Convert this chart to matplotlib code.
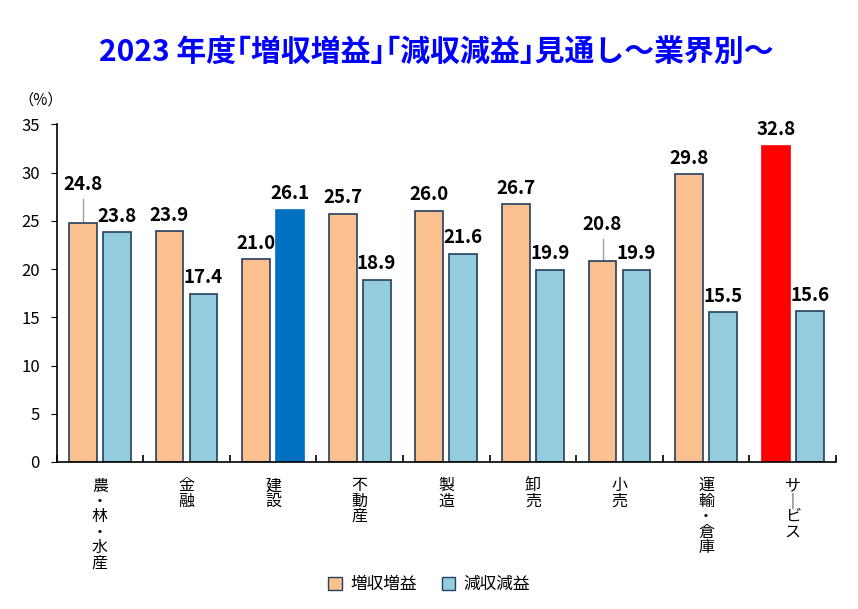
import numpy as np
import matplotlib.pyplot as plt
from matplotlib.patches import Patch

plt.rcParams['font.family'] = ['Noto Sans CJK JP', 'DejaVu Sans']

# DATA
categories = ['農・林・水産', '金融', '建設', '不動産', '製造', '卸売', '小売', '運輸・倉庫', 'サービス']
zoshu_zoeki = [24.8, 23.9, 21.0, 25.7, 26.0, 26.7, 20.8, 29.8, 32.8]   # 増収増益
genshu_geneki = [23.8, 17.4, 26.1, 18.9, 21.6, 19.9, 19.9, 15.5, 15.6]  # 減収減益
y_ticks = [0, 5, 10, 15, 20, 25, 30, 35]

# COLOURS
c_orange = '#FAC090'
c_blue = '#93CDDD'
c_edge = '#243F60'
c_red = '#FF0000'
c_dark = '#0070C0'

fig = plt.figure(figsize=(8.58, 6.09), dpi=100)
ax = fig.add_axes([0.0659, 0.2414, 0.9085, 0.5545])

x = np.arange(len(categories))
w = 0.32
off = 0.196

col_a = [c_orange] * len(x)
col_a[8] = c_red
edge_a = [c_edge] * len(x)
edge_a[8] = c_red
col_b = [c_blue] * len(x)
col_b[2] = c_dark
edge_b = [c_edge] * len(x)
edge_b[2] = c_dark

ax.bar(x - off, zoshu_zoeki, w, color=col_a, edgecolor=edge_a, linewidth=1.2, zorder=2)
ax.bar(x + off, genshu_geneki, w, color=col_b, edgecolor=edge_b, linewidth=1.2, zorder=2)

# DATA LABELS (two labels lifted with a leader line)
lifted = {0: 2.0, 6: 1.8}
for i in x:
    va = zoshu_zoeki[i]
    if i in lifted:
        top = va + lifted[i] + 1.0
        ax.plot([i - off, i - off], [va, va + lifted[i] + 0.5], color='#A0A0A0', lw=1, zorder=1)
    else:
        top = va + 0.7
    ax.text(i - off, top, f'{va:.1f}', ha='center', va='bottom', fontsize=13.5, fontweight='bold')
    vb = genshu_geneki[i]
    ax.text(i + off, vb + 0.7, f'{vb:.1f}', ha='center', va='bottom', fontsize=13.5, fontweight='bold')

# AXES
ax.set_xlim(-0.5, len(x) - 0.5)
ax.set_ylim(0, 35)
ax.set_yticks(y_ticks)
ax.tick_params(axis='y', direction='out', length=4, labelsize=12, pad=8)
ax.spines['top'].set_visible(False)
ax.spines['right'].set_visible(False)
ax.spines['left'].set_linewidth(1.2)
ax.spines['bottom'].set_linewidth(1.2)

vert = [c.replace('ー', '｜') for c in categories]
ax.set_xticks(x)
ax.set_xticklabels(['\n'.join(v) for v in vert], fontsize=11.5, linespacing=0.88, va='top')
ax.tick_params(axis='x', length=0, pad=11)
ax.set_xticks(np.arange(-0.5, len(x), 1), minor=True)
ax.tick_params(axis='x', which='minor', direction='in', length=5, width=1.2)

fig.text(0.047, 0.835, '（%）', fontsize=11, ha='center', va='center')

fig.text(0.508, 0.915, '2023 年度｢増収増益｣｢減収減益｣見通し～業界別～',
         fontsize=21.5, fontweight='bold', color='#0000FF', ha='center', va='center')

handles = [Patch(facecolor=c_orange, edgecolor=c_edge, label='増収増益'),
           Patch(facecolor=c_blue, edgecolor=c_edge, label='減収減益')]
fig.legend(handles=handles, loc='center', bbox_to_anchor=(0.5, 0.04), ncol=2,
           frameon=False, fontsize=12, handlelength=0.8, handleheight=0.8,
           handletextpad=0.5, columnspacing=1.5)

fig.savefig('out.png', dpi=100)
